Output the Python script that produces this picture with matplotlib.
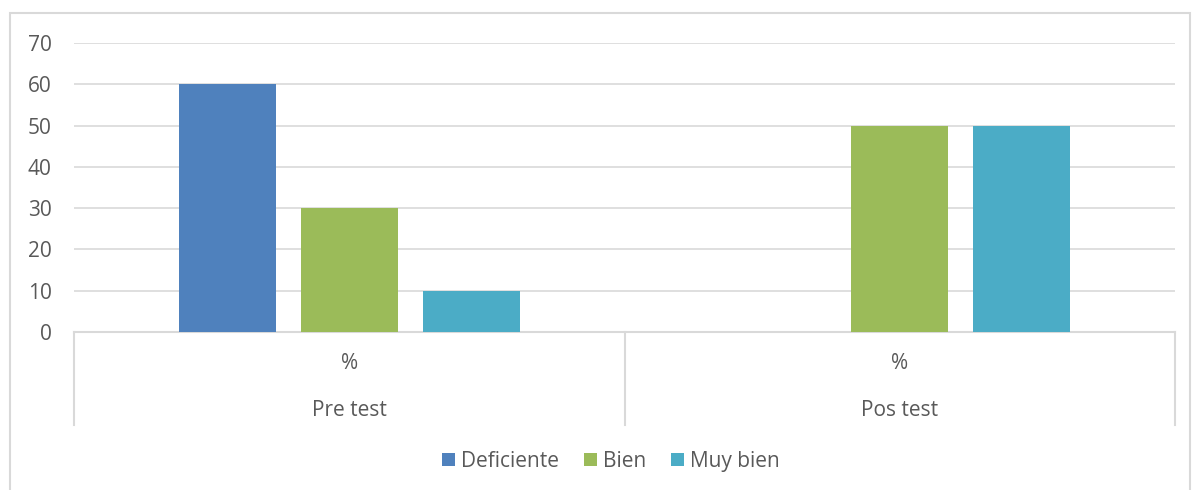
import matplotlib
matplotlib.use("Agg")
import matplotlib.pyplot as plt
import matplotlib.transforms as mtransforms
from matplotlib.lines import Line2D
from matplotlib.patches import Rectangle, Patch
import numpy as np

groups = ["Pre test", "Pos test"]
sub_label = "%"
series = ["Deficiente", "Bien", "Muy bien"]
deficiente = [60, 0]
bien = [30, 50]
muy_bien = [10, 50]
colors = ["#4F81BD", "#9BBB59", "#4BACC6"]
yticks = [0, 10, 20, 30, 40, 50, 60, 70]

plt.rcParams['font.family'] = ['Open Sans', 'DejaVu Sans']
txt = "#595959"
grid = "#D9D9D9"
fs = 15

W, H = 1192, 490
fig = plt.figure(figsize=(W/100, H/100), dpi=100)
ax = fig.add_axes([74/W, 1-332/H, (1175-74)/W, (332-43)/H])

x = np.arange(len(groups))
bw = 0.176
off = 0.2214
for i, (vals, c) in enumerate(zip([deficiente, bien, muy_bien], colors)):
    ax.bar(x + (i-1)*off, vals, bw, color=c, zorder=3)

ax.set_xlim(-0.5, 1.5)
ax.set_ylim(0, 70)
ax.set_yticks(yticks)
ax.set_yticklabels([str(t) for t in yticks], fontsize=fs, color=txt)
ax.tick_params(axis='y', length=0, pad=16)
ax.set_xticks([])
ax.grid(axis='y', color=grid, linewidth=1.2, zorder=0)
for s in ["top", "right", "left"]:
    ax.spines[s].set_visible(False)
ax.spines["bottom"].set_color(grid)
ax.spines["bottom"].set_linewidth(1.5)

trans = mtransforms.blended_transform_factory(ax.transData, fig.transFigure)
for xv in [-0.5, 0.5, 1.5]:
    fig.add_artist(Line2D([xv, xv], [1-332/H, 1-425/H], transform=trans, color=grid, linewidth=1.5))
for xi, g in zip(x, groups):
    fig.text(xi, 1-363/H, sub_label, transform=trans, ha='center', va='center', fontsize=fs, color=txt)
    fig.text(xi, 1-410/H, g, transform=trans, ha='center', va='center', fontsize=fs, color=txt)

fig.add_artist(Rectangle((10/W, -0.05), (1190-10)/W, 1-13/H+0.05, transform=fig.transFigure,
                         fill=False, edgecolor=grid, linewidth=1.5))

handles = [Patch(facecolor=c, edgecolor='none') for c in colors]
leg = fig.legend(handles, series, loc='center', bbox_to_anchor=(611/W, 1-461/H), ncol=3,
                 frameon=False, fontsize=fs, handlelength=0.6, handleheight=0.6,
                 handletextpad=0.3, columnspacing=1.2, labelcolor=txt)

fig.savefig("out.png", dpi=100)
